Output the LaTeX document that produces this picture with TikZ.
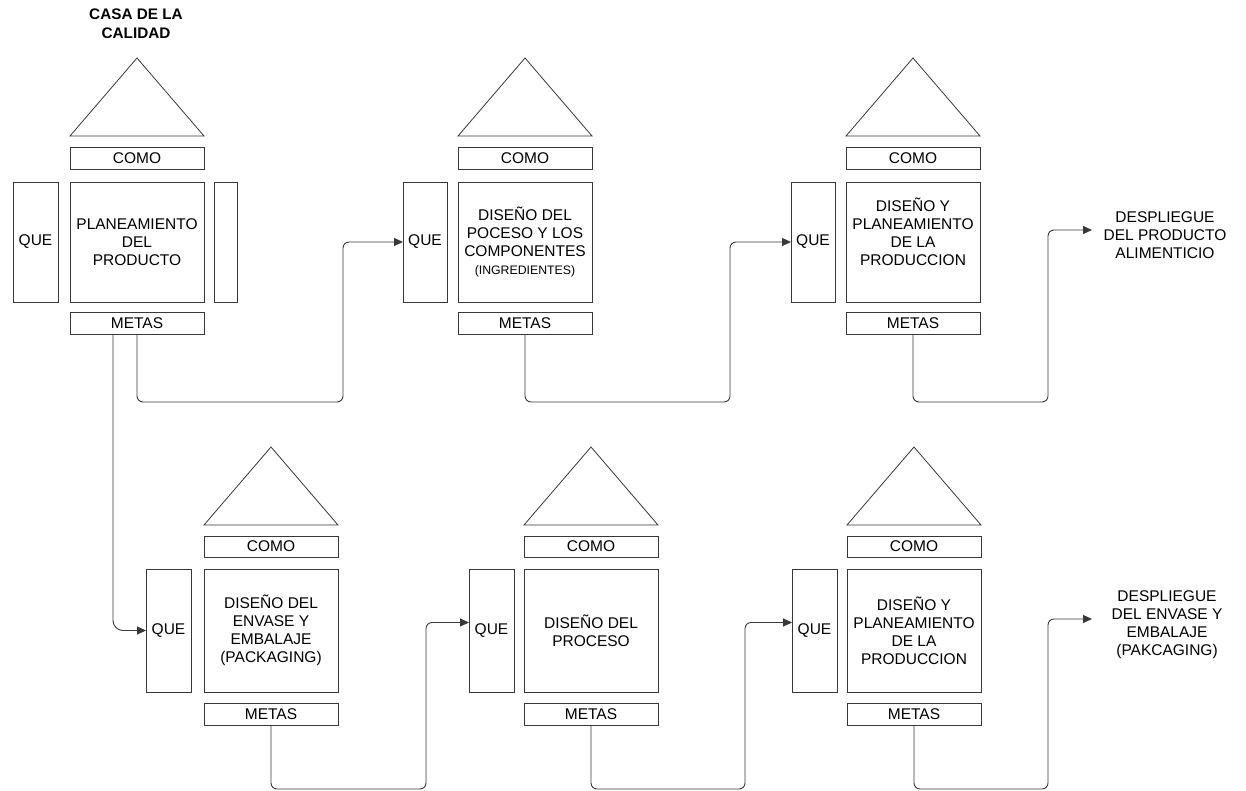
\documentclass[tikz,border=0pt]{standalone}
\usepackage{fontspec}
\setmainfont{Liberation Sans}
\usetikzlibrary{arrows.meta}
\newcommand\fs{\fontsize{15.5}{18}\selectfont}
\newcommand\fsmall{\fontsize{12.3}{14}\selectfont}
\colorlet{lc}{black!78}
\begin{document}
\begin{tikzpicture}[x=1pt,y=-1pt,
  box/.style={draw=lc, line width=0.9pt, inner sep=0pt, outer sep=0pt, align=center, font=\fs},
  roof/.style={draw=lc, line width=0.8pt},
  txt/.style={align=center, font=\fs, inner sep=0pt},
  conn/.style={draw=lc, line width=0.9pt, rounded corners=6pt},
  arr/.style={conn, -{Triangle[length=9pt,width=8pt]}}]
\useasboundingbox (0,0) rectangle (1246,791);

% title
\node[txt, font=\fontsize{15.3}{19}\selectfont\bfseries] (title) at (136,24) {CASA DE LA\\CALIDAD};

% ---------- house 1 ----------
\draw[roof] (70,136) -- (137,58) -- (204,136) -- cycle;
\node[box, minimum width=134pt, minimum height=22pt] (como1) at (137,158) {COMO};
\node[box, minimum width=134pt, minimum height=120pt] (main1) at (137,242) {PLANEAMIENTO\\DEL\\PRODUCTO};
\node[box, minimum width=45pt, minimum height=120pt] (que1) at (35.5,242) {QUE};
\node[box, minimum width=23pt, minimum height=120pt] (side1) at (225.5,242) {};
\node[box, minimum width=134pt, minimum height=22pt] (metas1) at (137,323) {METAS};

% ---------- house 2 ----------
\draw[roof] (458,136) -- (525,58) -- (592,136) -- cycle;
\node[box, minimum width=134pt, minimum height=22pt] (como2) at (525,158) {COMO};
\node[box, minimum width=134pt, minimum height=120pt] (main2) at (525,242) {DISEÑO DEL\\POCESO Y LOS\\COMPONENTES\\{\fsmall (INGREDIENTES)}};
\node[box, minimum width=44pt, minimum height=120pt] (que2) at (425,242) {QUE};
\node[box, minimum width=134pt, minimum height=22pt] (metas2) at (525,323) {METAS};

% ---------- house 3 ----------
\draw[roof] (846,136) -- (913,58) -- (980,136) -- cycle;
\node[box, minimum width=134pt, minimum height=22pt] (como3) at (913,158) {COMO};
\node[box, minimum width=134pt, minimum height=120pt] (main3) at (913,242) {};
\node[txt] (t3) at (913,232) {DISEÑO Y\\PLANEAMIENTO\\DE LA\\PRODUCCION};
\node[box, minimum width=44pt, minimum height=120pt] (que3) at (813,242) {QUE};
\node[box, minimum width=134pt, minimum height=22pt] (metas3) at (913,323) {METAS};

% ---------- house 4 ----------
\draw[roof] (204,525) -- (271,447) -- (338,525) -- cycle;
\node[box, minimum width=134pt, minimum height=21pt] (como4) at (271,546.5) {COMO};
\node[box, minimum width=134pt, minimum height=123pt] (main4) at (271,630.5) {DISEÑO DEL\\ENVASE Y\\EMBALAJE\\(PACKAGING)};
\node[box, minimum width=45pt, minimum height=123pt] (que4) at (168.5,630.5) {QUE};
\node[box, minimum width=134pt, minimum height=22pt] (metas4) at (271,714) {METAS};

% ---------- house 5 ----------
\draw[roof] (524,525) -- (591,447) -- (658,525) -- cycle;
\node[box, minimum width=134pt, minimum height=21pt] (como5) at (591,546.5) {COMO};
\node[box, minimum width=134pt, minimum height=123pt] (main5) at (591,630.5) {DISEÑO DEL\\PROCESO};
\node[box, minimum width=45pt, minimum height=123pt] (que5) at (491.5,630.5) {QUE};
\node[box, minimum width=134pt, minimum height=22pt] (metas5) at (591,714) {METAS};

% ---------- house 6 ----------
\draw[roof] (847,525) -- (914,447) -- (981,525) -- cycle;
\node[box, minimum width=134pt, minimum height=21pt] (como6) at (914,546.5) {COMO};
\node[box, minimum width=134pt, minimum height=123pt] (main6) at (914,630.5) {DISEÑO Y\\PLANEAMIENTO\\DE LA\\PRODUCCION};
\node[box, minimum width=45pt, minimum height=123pt] (que6) at (814.5,630.5) {QUE};
\node[box, minimum width=134pt, minimum height=22pt] (metas6) at (914,714) {METAS};

% ---------- outputs ----------
\node[txt] (desp1) at (1165,235) {DESPLIEGUE\\DEL PRODUCTO\\ALIMENTICIO};
\node[txt] (desp2) at (1167,625) {DESPLIEGUE\\DEL ENVASE Y\\EMBALAJE\\(PAKCAGING)};
\coordinate (e1) at (1092,230);
\coordinate (e2) at (1092,619);

% ---------- connectors ----------
\draw[arr] (metas1.south) |- (343,402) |- (que2.west);
\draw[arr] (metas2.south) |- (730,402) |- (que3.west);
\draw[arr] (metas3.south) |- (1048,402) |- (e1);
\draw[arr, rounded corners=10pt] ([xshift=-24pt]metas1.south) |- (que4.west);
\draw[arr] (metas4.south) |- (426,789) |- ([yshift=8pt]que5.west);
\draw[arr] (metas5.south) |- (745,789) |- ([yshift=8pt]que6.west);
\draw[arr] (metas6.south) |- (1048,789) |- (e2);
\end{tikzpicture}
\end{document}
